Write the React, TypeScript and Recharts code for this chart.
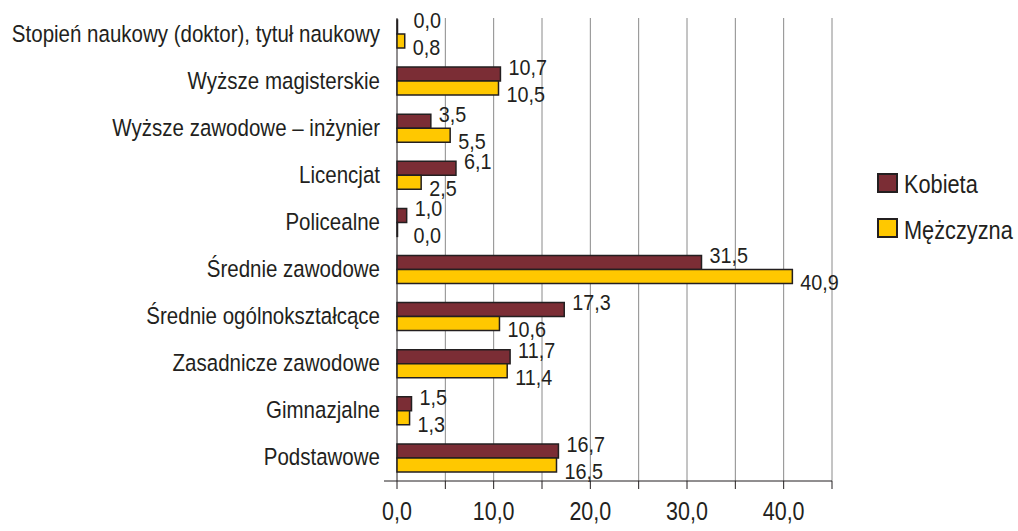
import React from "react";
import {
  BarChart,
  Bar,
  XAxis,
  YAxis,
  CartesianGrid,
  LabelList,
} from "recharts";

const categories = [
  "Stopień naukowy (doktor), tytuł naukowy",
  "Wyższe magisterskie",
  "Wyższe zawodowe – inżynier",
  "Licencjat",
  "Policealne",
  "Średnie zawodowe",
  "Średnie ogólnokształcące",
  "Zasadnicze zawodowe",
  "Gimnazjalne",
  "Podstawowe",
];

const kobieta = [0.0, 10.7, 3.5, 6.1, 1.0, 31.5, 17.3, 11.7, 1.5, 16.7];
const mezczyzna = [0.8, 10.5, 5.5, 2.5, 0.0, 40.9, 10.6, 11.4, 1.3, 16.5];

const xTicks = [0, 5, 10, 15, 20, 25, 30, 35, 40, 45];

const seriesNames = ["Kobieta", "Mężczyzna"];

const FONT = "'Liberation Sans', Arial, sans-serif";
const INK = "#231f20";
const GRID = "#8a8a8a";
const KOBIETA_COLOR = "#7b2d35";
const MEZCZYZNA_COLOR = "#ffc800";

const data = categories.map((name, i) => ({
  name,
  Kobieta: kobieta[i],
  Mezczyzna: mezczyzna[i],
}));

const fmt = (v: number) => v.toFixed(1).replace(".", ",");

// condensed look: Liberation Sans squeezed horizontally
const NarrowText = ({ x, y, size, scale = 0.86, anchor = "start", baseline, children }: any) => (
  <text
    transform={`translate(${x},${y}) scale(${scale},1)`}
    x={0}
    y={0}
    fontSize={size}
    fontFamily={FONT}
    fill={INK}
    textAnchor={anchor}
    dominantBaseline={baseline}
  >
    {children}
  </text>
);

const makeLabel = (dy: number) => (props: any) => {
  const { x, y, width, height, value } = props;
  const extra = value === 0 ? 8 : 0;
  return (
    <NarrowText x={x + width + 8 + extra} y={y + height / 2 + dy} size={22} scale={0.9} baseline="central">
      {fmt(value)}
    </NarrowText>
  );
};

const XTick = ({ x, y, payload }: any) => {
  const v = payload.value;
  return (
    <g>
      <line x1={x} x2={x} y1={y - 8} y2={y} stroke={INK} strokeWidth={1} />
      {v === 0 && <line x1={x - 13} x2={x} y1={y - 8} y2={y - 8} stroke={INK} strokeWidth={1} />}
      {v % 10 === 0 && (
        <NarrowText x={x} y={y + 31} size={25} scale={0.86} anchor="middle">
          {fmt(v)}
        </NarrowText>
      )}
    </g>
  );
};

const YTick = ({ x, y, payload }: any) => (
  <NarrowText x={x - 9} y={y} size={23.5} scale={0.873} anchor="end" baseline="central">
    {payload.value}
  </NarrowText>
);

// grid starts a little below the plot top, like the original
const GridLine = (p: any) => (
  <line
    key={`g-${p.index}`}
    x1={p.x1}
    x2={p.x2}
    y1={Math.min(p.y1, p.y2) + 8}
    y2={Math.max(p.y1, p.y2)}
    stroke={p.index === 0 ? INK : GRID}
    strokeWidth={1}
  />
);

const Legend = () => (
  <svg style={{ position: "absolute", left: 0, top: 0 }} width={1018} height={531}>
    {[KOBIETA_COLOR, MEZCZYZNA_COLOR].map((c, i) => (
      <g key={i}>
        <rect x={878} y={174 + i * 45} width={19} height={18} fill={c} stroke={INK} strokeWidth={2} />
        <NarrowText x={904} y={193 + i * 46} size={25} scale={0.87}>
          {seriesNames[i]}
        </NarrowText>
      </g>
    ))}
  </svg>
);

const App: React.FC = () => {
  return (
    <div style={{ position: "absolute", left: 0, top: 0, width: 1018, height: 531, background: "#fff" }}>
      <BarChart
        width={1018}
        height={531}
        data={data}
        layout="vertical"
        margin={{ top: 10, right: 186, bottom: 0, left: 0 }}
        barGap={0}
        barSize={14}
      >
        <CartesianGrid horizontal={false} vertical={GridLine} />
        <XAxis
          type="number"
          domain={[0, 45]}
          ticks={xTicks}
          interval={0}
          height={50}
          axisLine={{ stroke: INK, strokeWidth: 1 }}
          tickLine={false}
          tick={<XTick />}
        />
        <YAxis
          type="category"
          dataKey="name"
          width={397}
          axisLine={false}
          tickLine={false}
          tick={<YTick />}
          interval={0}
        />
        <Bar
          dataKey="Kobieta"
          fill={KOBIETA_COLOR}
          stroke={INK}
          strokeWidth={1.5}
          minPointSize={0.5}
          isAnimationActive={false}
        >
          <LabelList dataKey="Kobieta" content={makeLabel(-7)} />
        </Bar>
        <Bar
          dataKey="Mezczyzna"
          fill={MEZCZYZNA_COLOR}
          stroke={INK}
          strokeWidth={1.5}
          minPointSize={0.5}
          isAnimationActive={false}
        >
          <LabelList dataKey="Mezczyzna" content={makeLabel(6)} />
        </Bar>
      </BarChart>
      <Legend />
    </div>
  );
};

export default App;
